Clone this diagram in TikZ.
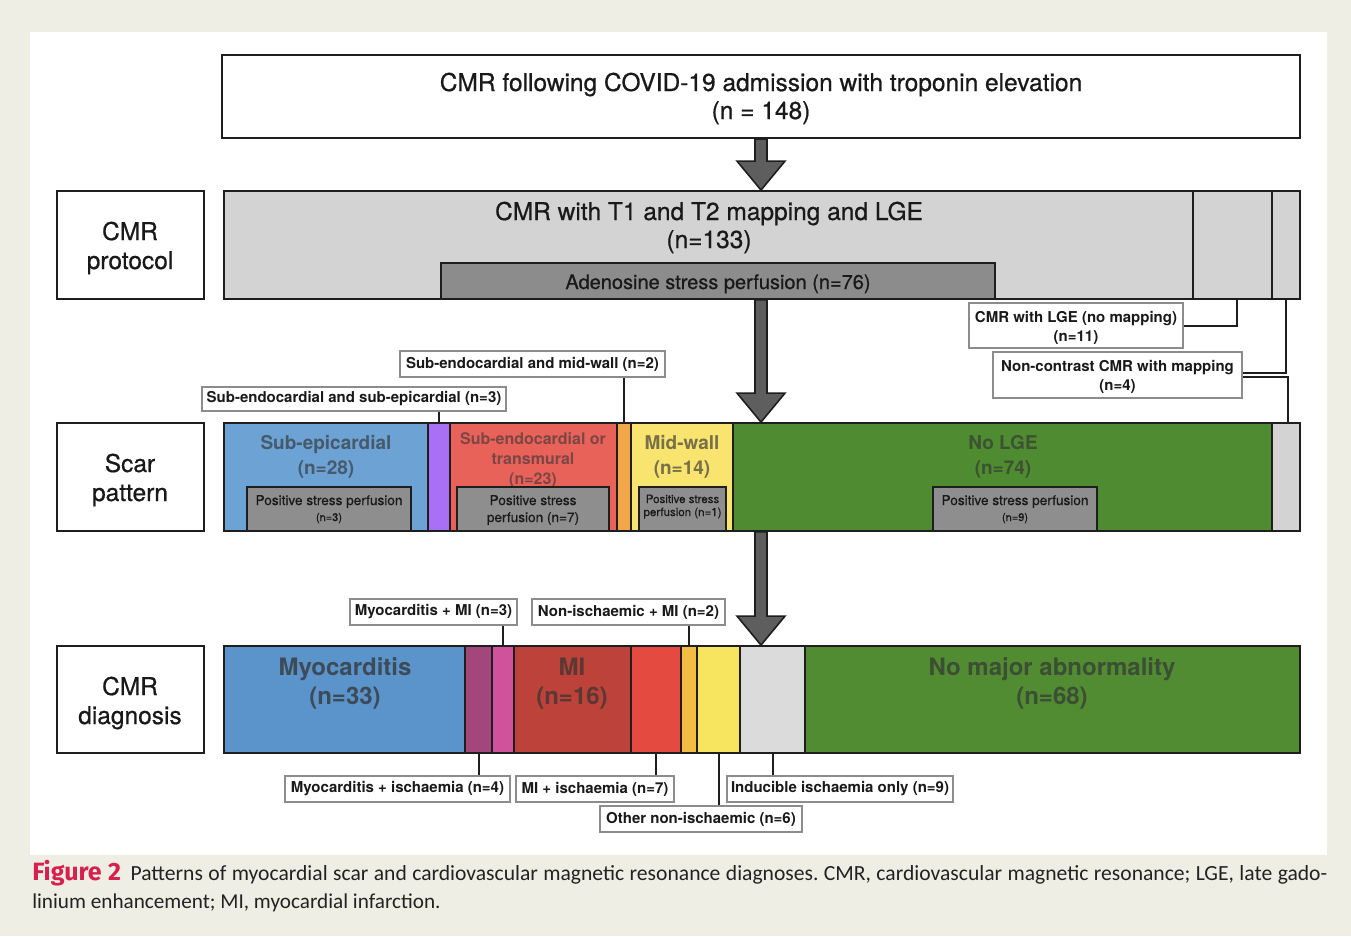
\documentclass[tikz,border=0pt]{standalone}
\usepackage{fontspec}
\setmainfont{TeX Gyre Heros}
\newfontfamily\medfont[FakeBold=0.6]{TeX Gyre Heros}
\newfontfamily\capfont{Carlito}
\newfontfamily\figfont{Fira Sans}
\usetikzlibrary{fit,calc}
\newcommand\pxfont[1]{\fontsize{\fpeval{#1*0.75}}{\fpeval{#1*0.9}}\selectfont}
\definecolor{bgbeige}{HTML}{EFEEE4}
\definecolor{protgrey}{HTML}{D3D3D3}
\definecolor{adegrey}{HTML}{8C8C8C}
\definecolor{arrowgrey}{HTML}{5E5E5E}
\definecolor{scarblue}{HTML}{6CA2D4}
\definecolor{scarpurple}{HTML}{A96FF5}
\definecolor{scarred}{HTML}{E8625A}
\definecolor{scarorange}{HTML}{F2A64A}
\definecolor{scaryellow}{HTML}{F8E46E}
\definecolor{scargreen}{HTML}{4F8B31}
\definecolor{dgblue}{HTML}{5B94CB}
\definecolor{dgplum}{HTML}{A2467C}
\definecolor{dgpink}{HTML}{CF529B}
\definecolor{dgmi}{HTML}{BD4239}
\definecolor{dgred}{HTML}{E54A40}
\definecolor{dgorange}{HTML}{F2BD42}
\definecolor{dgyellow}{HTML}{F7E45F}
\definecolor{dggrey}{HTML}{DBDBDB}
\definecolor{dggreen}{HTML}{518C33}
\definecolor{psgrey}{HTML}{8E8E8E}
\definecolor{figred}{HTML}{D6204E}
\definecolor{captext}{HTML}{222222}
\definecolor{textbase}{HTML}{333333}
\definecolor{linecol}{HTML}{1E1E1E}
\tikzset{
  box/.style={draw=linecol, line width=1.6pt, inner sep=0pt},
  seg/.style={draw=linecol, line width=1.4pt, inner sep=0pt},
  psbox/.style={draw=linecol, line width=1.4pt, inner sep=0pt, fill=psgrey},
  lblbox/.style={draw=black!45, line width=0.8pt, fill=white, inner sep=0pt},
  conn/.style={draw=linecol, line width=1.5pt},
  bigarrow/.style={fill=arrowgrey, draw=linecol, line width=1.2pt, line join=miter},
  bigtext/.style={font=\medfont\pxfont{24.5}, inner sep=0pt, text=black!90},
  midtext/.style={font=\medfont\pxfont{20}, inner sep=0pt, text=black!90},
  segtext/.style={font=\bfseries\pxfont{19}, inner sep=0pt},
  segsmall/.style={font=\bfseries\pxfont{16}, inner sep=0pt},
  dgtext/.style={font=\bfseries\pxfont{24}, inner sep=0pt},
  lbltext/.style={font=\bfseries\pxfont{15}, inner sep=0pt, text=black!90},
  pstext/.style={font=\medfont\pxfont{13.6}, inner sep=0pt, text=black!90},
  psmid/.style={font=\medfont\pxfont{11.5}, inner sep=0pt, text=black!90},
  pssmall/.style={font=\medfont\pxfont{11}, inner sep=0pt, text=black!90},
}
\newcommand\bigarrowdraw[2]{%
  \draw[bigarrow] ($(#1)+(-6,0)$) -- ($(#2)+(-6,-29)$) -- ($(#2)+(-24,-29)$) -- (#2)
    -- ($(#2)+(24,-29)$) -- ($(#2)+(6,-29)$) -- ($(#1)+(6,0)$) -- cycle;}
\begin{document}
\frenchspacing
\begin{tikzpicture}[x=0.75pt,y=-0.75pt]
\useasboundingbox (0,0) rectangle (1351,936);
\fill[bgbeige] (0,0) rectangle (1351,936);
\fill[white] (30,32) rectangle (1327,855);

% ---------- top box
\node[box, fill=white, fit={(222,55)(1300,138)}] (top) {};
\node[bigtext, anchor=base] (toptxtA) at (761,91) {CMR following COVID-19 admission with troponin elevation};
\node[bigtext, anchor=base] (toptxtB) at (761,119) {(n = 148)};

% ---------- left labels
\node[box, fill=white, fit={(57,191)(204,299)}] (lprot) {};
\node[bigtext, anchor=base] (lprotA) at (130,240) {CMR};
\node[bigtext, anchor=base] (lprotB) at (130,269) {protocol};
\node[box, fill=white, fit={(57,423)(204,531)}] (lscar) {};
\node[bigtext, anchor=base] (lscarA) at (130,472) {Scar};
\node[bigtext, anchor=base] (lscarB) at (130,501) {pattern};
\node[box, fill=white, fit={(57,646)(204,753)}] (ldiag) {};
\node[bigtext, anchor=base] (ldiagA) at (130,695) {CMR};
\node[bigtext, anchor=base] (ldiagB) at (130,724) {diagnosis};

% ---------- protocol row
\node[seg, fill=protgrey, fit={(224,191)(1193,299)}] (pmain) {};
\node[seg, fill=protgrey, fit={(1193,191)(1272,299)}] (plge) {};
\node[seg, fill=protgrey, fit={(1272,191)(1300,299)}] (pnc) {};
\node[bigtext, anchor=base] (pmainA) at (709,220) {CMR with T1 and T2 mapping and LGE};
\node[bigtext, anchor=base] (pmainB) at (709,248) {(n=133)};
\node[seg, fill=adegrey, fit={(441,263)(995,299)}] (pade) {};
\node[midtext, anchor=base] (padeA) at (718,289) {Adenosine stress perfusion (n=76)};

% ---------- scar row
\node[seg, fill=scarblue, fit={(224,423)(428,531)}] (sepi) {};
\node[seg, fill=scarpurple, fit={(428,423)(450,531)}] (spurp) {};
\node[seg, fill=scarred, fit={(450,423)(617,531)}] (sred) {};
\node[seg, fill=scarorange, fit={(617,423)(631,531)}] (sorange) {};
\node[seg, fill=scaryellow, fit={(631,423)(733,531)}] (syellow) {};
\node[seg, fill=scargreen, fit={(733,423)(1272,531)}] (sgreen) {};
\node[seg, fill=protgrey, fit={(1272,423)(1300,531)}] (sgrey) {};
\node[segtext, anchor=base, text=textbase!65!scarblue] (sepiA) at (326,449) {Sub-epicardial};
\node[segtext, anchor=base, text=textbase!65!scarblue] (sepiB) at (326,474) {(n=28)};
\node[segsmall, anchor=base, text=textbase!60!scarred] (sredA) at (533,444) {Sub-endocardial or};
\node[segsmall, anchor=base, text=textbase!60!scarred] (sredB) at (533,464) {transmural};
\node[segsmall, anchor=base, text=textbase!60!scarred] (sredC) at (533,484) {(n=23)};
\node[segtext, anchor=base, text=textbase!65!scaryellow] (syelA) at (682,449) {Mid-wall};
\node[segtext, anchor=base, text=textbase!65!scaryellow] (syelB) at (682,474) {(n=14)};
\node[segtext, anchor=base, text=textbase!65!scargreen] (sgrA) at (1003,449) {No LGE};
\node[segtext, anchor=base, text=textbase!65!scargreen] (sgrB) at (1003,474) {(n=74)};
% perfusion boxes
\node[psbox, fit={(247,487)(411,531)}] (ps1) {};
\node[pstext, anchor=base] (ps1A) at (329,505) {Positive stress perfusion};
\node[pssmall, anchor=base] (ps1B) at (329,521) {(n=3)};
\node[psbox, fit={(457,487)(609,531)}] (ps2) {};
\node[pstext, anchor=base] (ps2A) at (533,505) {Positive stress};
\node[pstext, anchor=base] (ps2B) at (533,522) {perfusion (n=7)};
\node[psbox, fit={(639,487)(726,531)}] (ps3) {};
\node[psmid, anchor=base] (ps3A) at (682.5,503) {Positive stress};
\node[psmid, anchor=base] (ps3B) at (682.5,516) {perfusion (n=1)};
\node[psbox, fit={(933,487)(1097,531)}] (ps4) {};
\node[pstext, anchor=base] (ps4A) at (1015,505) {Positive stress perfusion};
\node[pssmall, anchor=base] (ps4B) at (1015,521) {(n=9)};

% ---------- diagnosis row
\node[seg, fill=dgblue, fit={(224,646)(465,753)}] (dblue) {};
\node[seg, fill=dgplum, fit={(465,646)(492,753)}] (dplum) {};
\node[seg, fill=dgpink, fit={(492,646)(514,753)}] (dpink) {};
\node[seg, fill=dgmi, fit={(514,646)(631,753)}] (dmi) {};
\node[seg, fill=dgred, fit={(631,646)(681,753)}] (dred) {};
\node[seg, fill=dgorange, fit={(681,646)(697,753)}] (dorange) {};
\node[seg, fill=dgyellow, fit={(697,646)(740,753)}] (dyellow) {};
\node[seg, fill=dggrey, fit={(740,646)(805,753)}] (dgrey) {};
\node[seg, fill=dggreen, fit={(805,646)(1300,753)}] (dgreen) {};
\node[dgtext, anchor=base, text=textbase!75!dgblue] (dblueA) at (345,675) {Myocarditis};
\node[dgtext, anchor=base, text=textbase!75!dgblue] (dblueB) at (345,704) {(n=33)};
\node[dgtext, anchor=base, text=textbase!70!dgmi] (dmiA) at (572,675) {MI};
\node[dgtext, anchor=base, text=textbase!70!dgmi] (dmiB) at (572,704) {(n=16)};
\node[dgtext, anchor=base, text=textbase!70!dggreen] (dgrA) at (1052,675) {No major abnormality};
\node[dgtext, anchor=base, text=textbase!70!dggreen] (dgrB) at (1052,704) {(n=68)};

% ---------- label boxes
\node[lblbox, fit={(202,387)(506,411)}] (labSS) {};
\node[lbltext] (labSSt) at (labSS.center) {Sub-endocardial and sub-epicardial (n=3)};
\node[lblbox, fit={(400,351)(665,377)}] (labSM) {};
\node[lbltext] (labSMt) at (labSM.center) {Sub-endocardial and mid-wall (n=2)};
\node[lblbox, fit={(969,303)(1183,348)}] (labLGE) {};
\node[lbltext, anchor=base] (labLGEa) at (1076,322) {CMR with LGE (no mapping)};
\node[lbltext, anchor=base] (labLGEb) at (1076,341) {(n=11)};
\node[lblbox, fit={(993,352)(1242,398)}] (labNC) {};
\node[lbltext, anchor=base] (labNCa) at (1117.5,371) {Non-contrast CMR with mapping};
\node[lbltext, anchor=base] (labNCb) at (1117.5,390) {(n=4)};
\node[lblbox, fit={(350,599)(517,625)}] (labMM) {};
\node[lbltext] (labMMt) at (labMM.center) {Myocarditis + MI (n=3)};
\node[lblbox, fit={(532,599)(725,625)}] (labNM) {};
\node[lbltext] (labNMt) at (labNM.center) {Non-ischaemic + MI (n=2)};
\node[lblbox, fit={(285,776)(510,802)}] (labMI) {};
\node[lbltext] (labMIt) at (labMI.center) {Myocarditis + ischaemia (n=4)};
\node[lblbox, fit={(516,776)(674,802)}] (labMII) {};
\node[lbltext] (labMIIt) at (labMII.center) {MI + ischaemia (n=7)};
\node[lblbox, fit={(600,806)(802,832)}] (labON) {};
\node[lbltext] (labONt) at (labON.center) {Other non-ischaemic (n=6)};
\node[lblbox, fit={(727,776)(953,802)}] (labII) {};
\node[lbltext] (labIIt) at (labII.center) {Inducible ischaemia only (n=9)};

% ---------- connectors
\draw[conn] (spurp.north) -- (spurp.north |- labSS.south);
\draw[conn] (sorange.north) -- (sorange.north |- labSM.south);
\draw[conn] (labLGE.east) -| ([xshift=3.5pt]plge.south);
\draw[conn] (pnc.south) |- ([yshift=1.2pt]labNC.east);
\draw[conn] ([yshift=-1.2pt]labNC.east) -| ([xshift=1.2pt]sgrey.north);
\draw[conn] (dpink.north) -- (dpink.north |- labMM.south);
\draw[conn] (dorange.north) -- (dorange.north |- labNM.south);
\draw[conn] (dplum.south) -- (dplum.south |- labMI.north);
\draw[conn] (dred.south) -- (dred.south |- labMII.north);
\draw[conn] (dyellow.south) -- (dyellow.south |- labON.north);
\draw[conn] (dgrey.south) -- (dgrey.south |- labII.north);

% ---------- big arrows
\coordinate (a1s) at (top.south);
\coordinate (a1e) at (top.south |- pmain.north);
\coordinate (a2s) at (top.south |- pmain.south);
\coordinate (a2e) at (top.south |- sgreen.north);
\coordinate (a3s) at (top.south |- sgreen.south);
\coordinate (a3e) at (top.south |- dgrey.north);
\bigarrowdraw{a1s}{a1e}
\bigarrowdraw{a2s}{a2e}
\bigarrowdraw{a3s}{a3e}

% ---------- caption
\node[anchor=base west, inner sep=0pt, font=\capfont\pxfont{21.6}, text=captext] (cap1) at (32,880)
  {\makebox[971.25pt][s]{\textcolor{figred}{\figfont\bfseries\pxfont{25}Figure 2}\hspace{3pt} Patterns of myocardial scar and cardiovascular magnetic resonance diagnoses. CMR, cardiovascular magnetic resonance; LGE, late gado-}};
\node[anchor=base west, inner sep=0pt, font=\capfont\pxfont{21.2}, text=captext] (cap2) at (32,908)
  {linium enhancement; MI, myocardial infarction.};
\end{tikzpicture}
\end{document}
